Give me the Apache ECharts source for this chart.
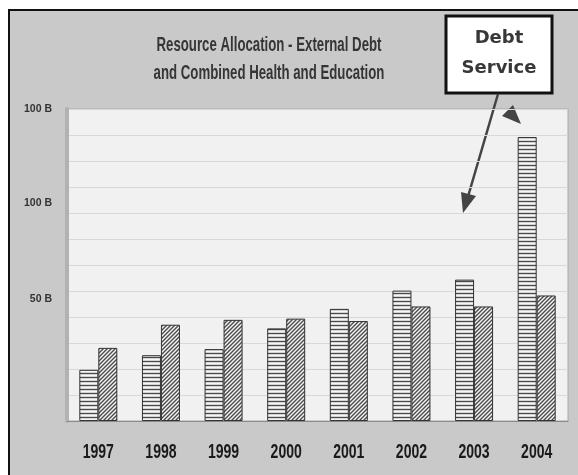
<!DOCTYPE html>
<html>
<head>
<meta charset="utf-8">
<script src="https://cdn.jsdelivr.net/npm/echarts@6/dist/echarts.min.js"></script>
<style>
  html, body { margin: 0; padding: 0; background: #fff; }
  #frame { position: absolute; left: 8px; top: 9px; width: 600px; height: 500px;
           border-top: 2px solid #111; border-left: 2px solid #111; background: #c9c9c9; }
  #chart { position: absolute; left: 0; top: 0; width: 578px; height: 475px; }
</style>
</head>
<body>
<div id="frame"></div>
<div id="chart"></div>
<script>
// years on the x axis
const years = ['1997', '1998', '1999', '2000', '2001', '2002', '2003', '2004'];
// billions, read against the "50 B" label
const debtService = [21, 27, 29.5, 38, 46, 53.5, 58, 116.5];
const healthEducation = [30, 39.5, 41.5, 42, 41, 47, 47, 51.5];
// y labels as printed on the original (yes, "100 B" twice)
const tickValues = [50, 89.3, 128];
const tickLabels = ['50 B', '100 B', '100 B'];

// fill patterns for the bars
function makePattern(kind) {
  const c = document.createElement('canvas');
  c.width = 4; c.height = 4;
  const ctx = c.getContext('2d');
  ctx.fillStyle = '#f6f6f6';
  ctx.fillRect(0, 0, 4, 4);
  ctx.strokeStyle = '#4a4a4a';
  ctx.lineWidth = 1.4;
  ctx.beginPath();
  if (kind === 'h') {
    ctx.moveTo(0, 1.5); ctx.lineTo(4, 1.5);
  } else {
    ctx.moveTo(0, 4); ctx.lineTo(4, 0);
    ctx.moveTo(-1, 1); ctx.lineTo(1, -1);
    ctx.moveTo(3, 5); ctx.lineTo(5, 3);
  }
  ctx.stroke();
  return c;
}

const myChart = echarts.init(document.getElementById('chart'));
const sans = '"Liberation Sans", Arial, sans-serif';

// the original uses a tall narrow face, so squeeze the text sideways
const baseGraphic = [
  {
    type: 'text', x: 269, y: 45, scaleX: 0.63,
    style: {
      text: 'Resource Allocation - External Debt',
      align: 'center', verticalAlign: 'middle',
      font: 'bold 21px ' + sans, fill: '#353535'
    }
  },
  {
    type: 'text', x: 269, y: 73, scaleX: 0.63,
    style: {
      text: 'and Combined Health and Education',
      align: 'center', verticalAlign: 'middle',
      font: 'bold 21px ' + sans, fill: '#353535'
    }
  },
  // callout box
  {
    type: 'rect',
    shape: { x: 446, y: 16, width: 106, height: 77 },
    style: { fill: '#fff', stroke: '#111', lineWidth: 3 }
  },
  {
    type: 'text', x: 499, y: 38,
    style: {
      text: 'Debt', align: 'center', verticalAlign: 'middle',
      font: 'bold 18px "DejaVu Sans", Verdana, sans-serif', fill: '#383838'
    }
  },
  {
    type: 'text', x: 499, y: 68,
    style: {
      text: 'Service', align: 'center', verticalAlign: 'middle',
      font: 'bold 18px "DejaVu Sans", Verdana, sans-serif', fill: '#383838'
    }
  },
  // arrow from the box
  {
    type: 'line',
    shape: { x1: 498, y1: 94, x2: 467, y2: 200 },
    style: { stroke: '#444', lineWidth: 2.5 }
  },
  {
    type: 'polygon',
    shape: { points: [[463, 213], [476, 196], [461, 192]] },
    style: { fill: '#444' }
  },
  // second arrow head toward 2004
  {
    type: 'polygon',
    shape: { points: [[521, 124], [502, 116], [513, 105]] },
    style: { fill: '#444' }
  }
];

const options = {
  backgroundColor: 'transparent',
  animation: false,
  grid: {
    left: 67, right: 10, top: 109, bottom: 54,
    show: true,
    backgroundColor: '#f1f1f1',
    borderColor: '#a8a8a8',
    borderWidth: 1
  },
  xAxis: {
    type: 'category',
    data: years,
    axisTick: { show: false },
    axisLine: { lineStyle: { color: '#8a8a8a', width: 1 } },
    axisLabel: { show: false }
  },
  yAxis: [
    {
      type: 'value',
      min: 0,
      max: 128,
      splitLine: { show: false },
      axisTick: { show: false },
      axisLine: { show: true, lineStyle: { color: '#b2b2b2', width: 4 } },
      axisLabel: {
        customValues: tickValues,
        formatter: (v) => tickLabels[tickValues.indexOf(v)] || '',
        margin: 15,
        fontFamily: sans,
        fontWeight: 'bold',
        fontSize: 10.5,
        color: '#333'
      }
    },
    {
      // only for the grid lines, 12 bands
      type: 'value',
      min: 0,
      max: 12,
      interval: 1,
      position: 'left',
      axisLabel: { show: false },
      axisLine: { show: false },
      axisTick: { show: false },
      splitLine: { lineStyle: { color: '#d8d8d8', width: 1 } }
    }
  ],
  series: [
    {
      name: 'Debt Service',
      type: 'bar',
      data: debtService,
      barWidth: 19,
      barGap: '0%',
      itemStyle: {
        color: { image: makePattern('h'), repeat: 'repeat' },
        borderColor: '#333',
        borderWidth: 1
      }
    },
    {
      name: 'Health and Education',
      type: 'bar',
      data: healthEducation,
      barWidth: 19,
      itemStyle: {
        color: { image: makePattern('d'), repeat: 'repeat' },
        borderColor: '#333',
        borderWidth: 1
      }
    }
  ],
  graphic: baseGraphic
};

myChart.setOption(options);

// year labels, placed through the category axis, squeezed like the original
const yearLabels = years.map((yr) => ({
  type: 'text',
  x: myChart.convertToPixel({ xAxisIndex: 0 }, yr),
  y: 453,
  scaleX: 0.72,
  style: {
    text: yr, align: 'center', verticalAlign: 'middle',
    font: 'bold 19.5px ' + sans, fill: '#1a1a1a'
  }
}));
myChart.setOption({ graphic: baseGraphic.concat(yearLabels) });
</script>
</body>
</html>
